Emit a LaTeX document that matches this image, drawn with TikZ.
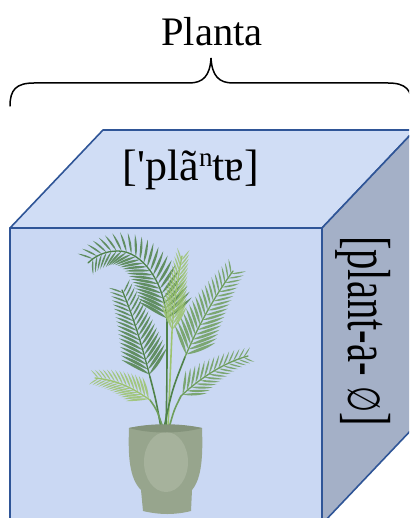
\documentclass[tikz,border=0pt]{standalone}
\usepackage{fontspec}
\newfontfamily\serifplain{Liberation Serif}
\newfontfamily\symfnt{DejaVu Sans}
\usetikzlibrary{decorations.markings}

\definecolor{edgeblue}{HTML}{2F5597}
\definecolor{frontface}{HTML}{CAD8F3}
\definecolor{topface}{HTML}{D0DDF5}
\definecolor{sideface}{HTML}{A4B0C7}
\definecolor{leafdark}{HTML}{4F8249}
\definecolor{leafmid}{HTML}{6E9E5C}
\definecolor{leaflight}{HTML}{9CC36E}
\definecolor{potbody}{HTML}{97A58D}
\definecolor{potlight}{HTML}{B0BBA7}
\definecolor{potdark}{HTML}{84937B}

% one pair of leaflets, shrinking towards the tip of the frond
\newcommand\palmleaf[2]{%
  \pgfmathsetmacro\lf{#1*(1.1-0.6*\pgfkeysvalueof{/pgf/decoration/mark info/distance from start}/\pgfdecoratedpathlength)}%
  \foreach \s in {1,-1}{%
    \fill[rotate=\s*#2] (0,0) .. controls (0.3*\lf,0.1*\lf) and (0.7*\lf,0.08*\lf) .. (\lf,0)
      .. controls (0.7*\lf,-0.03*\lf) and (0.3*\lf,-0.05*\lf) .. cycle;}%
}

\tikzset{
  face/.style={draw=edgeblue, line width=1.6pt, line join=round},
  caption/.style={inner sep=0pt, font=\fontsize{#1}{#1}\selectfont},
  stem/.style={line width=1.6pt, line cap=round},
  frond/.style n args={3}{line width=1.3pt, line cap=round, fill opacity=0.85,
    postaction={decorate, decoration={markings,
      mark=between positions 0.03 and 0.97 step #1 with {\palmleaf{#2}{#3}}}}},
}

\begin{document}
\begin{tikzpicture}[x=1pt,y=-1pt]
\clip (0,0) rectangle (409,518);
\fill[white] (0,0) rectangle (409,518);

% cube corners
\coordinate (ftl) at (10,228);
\coordinate (ftr) at (322,228);
\coordinate (fbl) at (10,524);
\coordinate (fbr) at (322,524);
\coordinate (btl) at (103,130);
\coordinate (btr) at (415,130);
\coordinate (bbr) at (415,426);

% faces
\filldraw[face, fill=topface] (ftl) -- (btl) -- (btr) -- (ftr) -- cycle;
\filldraw[face, fill=sideface] (ftr) -- (btr) -- (bbr) -- (fbr) -- cycle;
\filldraw[face, fill=frontface] (ftl) -- (ftr) -- (fbr) -- (fbl) -- cycle;

% brace with its label
\coordinate (brl) at (10,106);
\coordinate (brtip) at (211,58);
\coordinate (brr) at (412,106);
\draw[line width=1.5pt, line cap=round]
  (brl) .. controls (10,90) and (16,83) .. (34,83) -- (189,83)
  .. controls (203,83) and (210,76) .. (brtip)
  .. controls (212,76) and (219,83) .. (233,83) -- (388,83)
  .. controls (406,83) and (412,90) .. (brr);
\node[caption=40.5] (word) at (212,32) {\serifplain Planta};

% face labels
\node[caption=44] (phon) at (191,170)
  {\serifplain ['plã\raisebox{0.7ex}{\fontsize{27}{27}\selectfont n}tɐ]};
\node[caption=38, rotate=-90, xscale=1.07, yscale=1.6] (morph) at (363,331)
  {\serifplain [plant-a- {\symfnt\fontsize{28}{28}\selectfont ∅}]};

% stems
\draw[stem, leafdark] (166,428) .. controls (167,380) .. (167,322);
\draw[stem, leaflight] (168,428) .. controls (170,380) .. (172,332);
\draw[stem, leafdark] (164,428) .. controls (172,390) .. (185,357);
\draw[stem, leafdark] (161,428) .. controls (156,400) .. (150,377);
\draw[stem, leafmid] (163,428) .. controls (157,410) .. (150,400);
\draw[stem, leafmid] (169,428) .. controls (174,410) .. (181,396);

% fronds
\draw[frond={0.07}{21}{40}, leaflight] (150,400) .. controls (130,386) and (115,380) .. (95,378);
\draw[frond={0.07}{22}{40}, leafmid] (181,396) .. controls (200,378) and (225,362) .. (248,356);
\draw[frond={0.055}{29}{48}, leafdark] (150,377) .. controls (141,342) and (133,316) .. (122,290);
\draw[frond={0.055}{29}{45}, leafmid] (185,357) .. controls (200,322) and (215,296) .. (233,271);
\draw[frond={0.04}{30}{55}, leafdark] (167,322) .. controls (165,282) and (142,251) .. (118,251)
  .. controls (105,251) and (95,256) .. (88,263);
\draw[frond={0.07}{25}{28}, leaflight] (172,332) .. controls (174,302) and (178,277) .. (182,256);

% pot
\fill[potbody] (129,428) .. controls (128,455) and (129,478) .. (141,490) -- (143,511)
  .. controls (160,515) and (175,515) .. (191,511) -- (192,490)
  .. controls (202,478) and (203,455) .. (202,428)
  .. controls (180,424) and (150,424) .. cycle;
\fill[potlight, opacity=0.6] (166,462) ellipse (22 and 30);
\fill[potdark] (129,428) .. controls (150,423) and (180,423) .. (202,428)
  .. controls (180,434) and (150,434) .. cycle;
\end{tikzpicture}
\end{document}
